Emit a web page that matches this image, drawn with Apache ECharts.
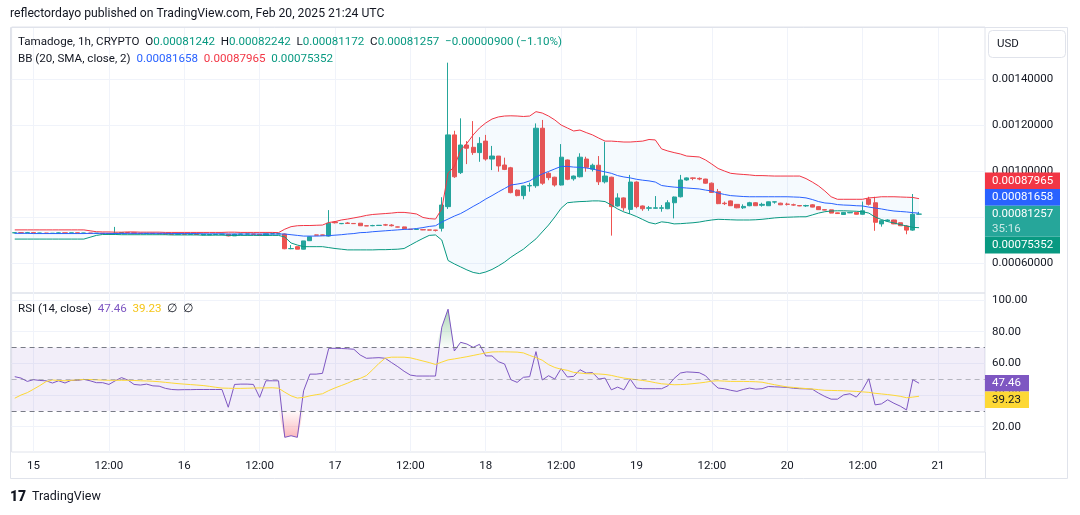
<!DOCTYPE html>
<html>
<head>
<meta charset="utf-8">
<title>Tamadoge 1h</title>
<script src="https://cdn.jsdelivr.net/npm/echarts@6/dist/echarts.min.js"></script>
<style>
  html, body { margin: 0; padding: 0; background: #ffffff; }
  #chart { width: 1080px; height: 515px; }
</style>
</head>
<body>
<div id="chart"></div>
<script>
// hourly candles, first one is Feb 14 21:00, last one Feb 20 21:00
var opens = [
  0.000731, 0.000732, 0.000731, 0.000732, 0.000730, 0.000730, 0.000729, 0.000729, 0.000731, 0.000730,
  0.000731, 0.000730, 0.000730, 0.000729, 0.000729, 0.000728, 0.000727, 0.000730, 0.000732, 0.000731,
  0.000729, 0.000728, 0.000729, 0.000728, 0.000727, 0.000726, 0.000725, 0.000726, 0.000725, 0.000726,
  0.000722, 0.000722, 0.000724, 0.000725, 0.000725, 0.000718, 0.000725, 0.000726, 0.000726, 0.000725,
  0.000721, 0.000727, 0.000727, 0.000726, 0.000662, 0.000671, 0.000660, 0.000697, 0.000722, 0.000722,
  0.000717, 0.000778, 0.000771, 0.000774, 0.000772, 0.000773, 0.000762, 0.000762, 0.000763, 0.000766,
  0.000765, 0.000757, 0.000757, 0.000747, 0.000746, 0.000745, 0.000744, 0.000743, 0.000751, 0.000845,
  0.001157, 0.000993, 0.001113, 0.001103, 0.001080, 0.001130, 0.001052, 0.001065, 0.001026, 0.001014,
  0.000917, 0.000893, 0.000935, 0.000936, 0.001186, 0.000990, 0.000973, 0.000939, 0.001048, 0.000966,
  0.000975, 0.001052, 0.001008, 0.001025, 0.000953, 0.000973, 0.000848, 0.000883, 0.000833, 0.000952,
  0.000848, 0.000838, 0.000838, 0.000838, 0.000836, 0.000862, 0.000888, 0.000961, 0.000970, 0.000968,
  0.000965, 0.000947, 0.000910, 0.000860, 0.000870, 0.000855, 0.000840, 0.000849, 0.000862, 0.000851,
  0.000849, 0.000865, 0.000860, 0.000856, 0.000853, 0.000850, 0.000848, 0.000853, 0.000845, 0.000832,
  0.000831, 0.000818, 0.000811, 0.000818, 0.000820, 0.000812, 0.000878, 0.000862, 0.000770, 0.000783,
  0.000787, 0.000775, 0.000761, 0.000743, 0.00081242
];
var highs = [
  0.000734, 0.000733, 0.000735, 0.000732, 0.000731, 0.000731, 0.000730, 0.000733, 0.000731, 0.000731,
  0.000732, 0.000731, 0.000731, 0.000730, 0.000730, 0.000729, 0.000757, 0.000733, 0.000733, 0.000731,
  0.000730, 0.000730, 0.000729, 0.000729, 0.000728, 0.000727, 0.000726, 0.000727, 0.000726, 0.000726,
  0.000726, 0.000725, 0.000726, 0.000726, 0.000726, 0.000727, 0.000727, 0.000727, 0.000727, 0.000726,
  0.000728, 0.000728, 0.000728, 0.000728, 0.000678, 0.000671, 0.000696, 0.000715, 0.000723, 0.000723,
  0.000830, 0.000782, 0.000773, 0.000778, 0.000773, 0.000774, 0.000763, 0.000766, 0.000764, 0.000770,
  0.000769, 0.000758, 0.000758, 0.000748, 0.000748, 0.000746, 0.000745, 0.000744, 0.000886, 0.001471,
  0.001175, 0.001229, 0.001130, 0.001217, 0.001147, 0.001157, 0.001109, 0.001065, 0.001058, 0.001018,
  0.000920, 0.000937, 0.000949, 0.001207, 0.001222, 0.000995, 0.000975, 0.001117, 0.001050, 0.000980,
  0.001077, 0.001062, 0.001032, 0.001065, 0.001127, 0.000975, 0.000903, 0.000885, 0.000983, 0.000955,
  0.000850, 0.000848, 0.000891, 0.000852, 0.000873, 0.000889, 0.000983, 0.000972, 0.000972, 0.000972,
  0.000966, 0.000950, 0.000922, 0.000867, 0.000872, 0.000856, 0.000855, 0.000866, 0.000864, 0.000862,
  0.000867, 0.000867, 0.000862, 0.000862, 0.000858, 0.000851, 0.000853, 0.000856, 0.000847, 0.000833,
  0.000832, 0.000819, 0.000822, 0.000822, 0.000821, 0.000867, 0.000888, 0.000888, 0.000787, 0.000790,
  0.000788, 0.000776, 0.000765, 0.000900, 0.00082242
];
var lows = [
  0.000729, 0.000730, 0.000730, 0.000729, 0.000729, 0.000728, 0.000728, 0.000728, 0.000729, 0.000729,
  0.000729, 0.000729, 0.000728, 0.000728, 0.000727, 0.000726, 0.000727, 0.000729, 0.000730, 0.000728,
  0.000727, 0.000727, 0.000727, 0.000726, 0.000725, 0.000724, 0.000724, 0.000724, 0.000724, 0.000723,
  0.000721, 0.000721, 0.000723, 0.000724, 0.000716, 0.000718, 0.000724, 0.000725, 0.000724, 0.000720,
  0.000721, 0.000726, 0.000726, 0.000660, 0.000660, 0.000660, 0.000659, 0.000696, 0.000720, 0.000720,
  0.000715, 0.000772, 0.000769, 0.000770, 0.000771, 0.000761, 0.000761, 0.000760, 0.000762, 0.000762,
  0.000759, 0.000755, 0.000748, 0.000745, 0.000745, 0.000743, 0.000742, 0.000737, 0.000737, 0.000835,
  0.000970, 0.000987, 0.001030, 0.001070, 0.001040, 0.001045, 0.001004, 0.000997, 0.001004, 0.000903,
  0.000890, 0.000877, 0.000910, 0.000927, 0.000940, 0.000960, 0.000932, 0.000937, 0.000960, 0.000958,
  0.000972, 0.000997, 0.000998, 0.000939, 0.000946, 0.000719, 0.000845, 0.000827, 0.000813, 0.000838,
  0.000827, 0.000827, 0.000836, 0.000823, 0.000834, 0.000794, 0.000885, 0.000958, 0.000960, 0.000960,
  0.000945, 0.000905, 0.000856, 0.000852, 0.000848, 0.000838, 0.000835, 0.000847, 0.000848, 0.000845,
  0.000848, 0.000858, 0.000852, 0.000850, 0.000849, 0.000847, 0.000844, 0.000842, 0.000831, 0.000829,
  0.000816, 0.000814, 0.000810, 0.000817, 0.000811, 0.000810, 0.000850, 0.000740, 0.000758, 0.000779,
  0.000769, 0.000761, 0.000725, 0.000740, 0.00081172
];
var closes = [
  0.000732, 0.000731, 0.000732, 0.000730, 0.000730, 0.000729, 0.000729, 0.000731, 0.000730, 0.000731,
  0.000730, 0.000730, 0.000729, 0.000729, 0.000728, 0.000727, 0.000730, 0.000732, 0.000731, 0.000729,
  0.000728, 0.000729, 0.000728, 0.000727, 0.000726, 0.000725, 0.000726, 0.000725, 0.000726, 0.000724,
  0.000725, 0.000724, 0.000725, 0.000725, 0.000718, 0.000725, 0.000726, 0.000726, 0.000725, 0.000721,
  0.000727, 0.000727, 0.000727, 0.000662, 0.000663, 0.000660, 0.000696, 0.000714, 0.000721, 0.000721,
  0.000773, 0.000775, 0.000772, 0.000772, 0.000771, 0.000762, 0.000761, 0.000763, 0.000764, 0.000765,
  0.000762, 0.000756, 0.000749, 0.000746, 0.000747, 0.000744, 0.000743, 0.000742, 0.000852, 0.001157,
  0.000975, 0.001113, 0.001099, 0.001080, 0.001120, 0.001052, 0.001065, 0.001022, 0.001007, 0.000906,
  0.000893, 0.000935, 0.000937, 0.001186, 0.000947, 0.000971, 0.000939, 0.001060, 0.000964, 0.000978,
  0.001060, 0.001016, 0.001025, 0.000953, 0.000978, 0.000845, 0.000883, 0.000840, 0.000952, 0.000845,
  0.000836, 0.000840, 0.000840, 0.000840, 0.000862, 0.000887, 0.000961, 0.000970, 0.000968, 0.000965,
  0.000947, 0.000907, 0.000858, 0.000858, 0.000849, 0.000840, 0.000846, 0.000862, 0.000849, 0.000855,
  0.000866, 0.000866, 0.000853, 0.000855, 0.000852, 0.000848, 0.000850, 0.000843, 0.000832, 0.000830,
  0.000817, 0.000815, 0.000820, 0.000820, 0.000812, 0.000827, 0.000855, 0.000777, 0.000784, 0.000787,
  0.000770, 0.000762, 0.000743, 0.000812, 0.00081257
];

// Bollinger Bands (20, SMA, close, 2)
var bbUpper = [
  0.000744, 0.000744, 0.000744, 0.000744, 0.000744, 0.000744, 0.000744, 0.000744, 0.000744, 0.000744,
  0.000744, 0.000744, 0.000740, 0.000736, 0.000735, 0.000735, 0.000734, 0.000734, 0.000735, 0.000735,
  0.000734, 0.000734, 0.000734, 0.000734, 0.000733, 0.000733, 0.000733, 0.000733, 0.000733, 0.000733,
  0.000733, 0.000733, 0.000733, 0.000733, 0.000734, 0.000734, 0.000733, 0.000733, 0.000733, 0.000733,
  0.000733, 0.000733, 0.000732, 0.000747, 0.000758, 0.000762, 0.000763, 0.000763, 0.000764, 0.000765,
  0.000776, 0.000780, 0.000787, 0.000791, 0.000796, 0.000801, 0.000807, 0.000811, 0.000813, 0.000815,
  0.000817, 0.000820, 0.000820, 0.000817, 0.000813, 0.000798, 0.000793, 0.000791, 0.000835, 0.000990,
  0.001020, 0.001090, 0.001120, 0.001157, 0.001187, 0.001209, 0.001226, 0.001235, 0.001239, 0.001240,
  0.001239, 0.001237, 0.001239, 0.001258, 0.001252, 0.001239, 0.001222, 0.001200, 0.001187, 0.001174,
  0.001178, 0.001167, 0.001157, 0.001143, 0.001130, 0.001130, 0.001128, 0.001126, 0.001126, 0.001128,
  0.001130, 0.001137, 0.001135, 0.001096, 0.001087, 0.001080, 0.001074, 0.001065, 0.001063, 0.001061,
  0.001048, 0.001030, 0.001011, 0.001000, 0.000990, 0.000987, 0.000985, 0.000983, 0.000980, 0.000980,
  0.000979, 0.000978, 0.000978, 0.000978, 0.000978, 0.000978, 0.000967, 0.000952, 0.000935, 0.000913,
  0.000888, 0.000877, 0.000877, 0.000877, 0.000877, 0.000877, 0.000883, 0.000885, 0.000888, 0.000888,
  0.000888, 0.000887, 0.000886, 0.000885, 0.00087965
];
var bbBasis = [
  0.000729, 0.000729, 0.000729, 0.000728, 0.000728, 0.000728, 0.000728, 0.000728, 0.000728, 0.000728,
  0.000728, 0.000728, 0.000729, 0.000729, 0.000729, 0.000729, 0.000728, 0.000728, 0.000729, 0.000729,
  0.000729, 0.000729, 0.000729, 0.000729, 0.000729, 0.000728, 0.000728, 0.000728, 0.000728, 0.000728,
  0.000727, 0.000727, 0.000727, 0.000727, 0.000726, 0.000726, 0.000726, 0.000726, 0.000726, 0.000726,
  0.000726, 0.000726, 0.000726, 0.000726, 0.000723, 0.000720, 0.000717, 0.000717, 0.000717, 0.000718,
  0.000719, 0.000721, 0.000723, 0.000726, 0.000728, 0.000732, 0.000733, 0.000736, 0.000738, 0.000740,
  0.000742, 0.000744, 0.000746, 0.000747, 0.000750, 0.000754, 0.000759, 0.000762, 0.000778, 0.000791,
  0.000804, 0.000815, 0.000830, 0.000846, 0.000861, 0.000878, 0.000893, 0.000909, 0.000924, 0.000939,
  0.000943, 0.000948, 0.000957, 0.000974, 0.000987, 0.000998, 0.001009, 0.001020, 0.001020, 0.001017,
  0.001016, 0.001013, 0.001009, 0.001002, 0.000996, 0.000990, 0.000980, 0.000974, 0.000970, 0.000964,
  0.000960, 0.000957, 0.000952, 0.000937, 0.000933, 0.000930, 0.000928, 0.000926, 0.000924, 0.000922,
  0.000917, 0.000913, 0.000904, 0.000898, 0.000893, 0.000891, 0.000889, 0.000888, 0.000888, 0.000888,
  0.000888, 0.000888, 0.000888, 0.000888, 0.000887, 0.000886, 0.000883, 0.000876, 0.000867, 0.000861,
  0.000859, 0.000854, 0.000852, 0.000851, 0.000849, 0.000848, 0.000843, 0.000839, 0.000835, 0.000830,
  0.000826, 0.000824, 0.000822, 0.000819, 0.00081658
];
var bbLower = [
  0.000704, 0.000704, 0.000704, 0.000704, 0.000704, 0.000704, 0.000704, 0.000704, 0.000704, 0.000704,
  0.000704, 0.000704, 0.000712, 0.000720, 0.000724, 0.000724, 0.000724, 0.000723, 0.000723, 0.000723,
  0.000723, 0.000723, 0.000723, 0.000723, 0.000723, 0.000722, 0.000722, 0.000722, 0.000722, 0.000722,
  0.000721, 0.000721, 0.000721, 0.000721, 0.000720, 0.000720, 0.000720, 0.000720, 0.000720, 0.000720,
  0.000720, 0.000720, 0.000720, 0.000713, 0.000687, 0.000678, 0.000671, 0.000671, 0.000671, 0.000671,
  0.000667, 0.000663, 0.000660, 0.000657, 0.000657, 0.000657, 0.000657, 0.000657, 0.000658, 0.000658,
  0.000659, 0.000660, 0.000663, 0.000678, 0.000693, 0.000707, 0.000720, 0.000722, 0.000700, 0.000611,
  0.000596, 0.000583, 0.000570, 0.000559, 0.000554, 0.000561, 0.000572, 0.000587, 0.000604, 0.000625,
  0.000643, 0.000660, 0.000683, 0.000705, 0.000735, 0.000765, 0.000800, 0.000838, 0.000862, 0.000865,
  0.000867, 0.000868, 0.000870, 0.000870, 0.000867, 0.000852, 0.000835, 0.000822, 0.000813, 0.000802,
  0.000789, 0.000776, 0.000770, 0.000779, 0.000776, 0.000770, 0.000771, 0.000773, 0.000775, 0.000778,
  0.000783, 0.000787, 0.000790, 0.000789, 0.000788, 0.000787, 0.000787, 0.000787, 0.000788, 0.000790,
  0.000793, 0.000796, 0.000798, 0.000799, 0.000800, 0.000801, 0.000801, 0.000809, 0.000817, 0.000823,
  0.000826, 0.000827, 0.000827, 0.000826, 0.000825, 0.000823, 0.000817, 0.000800, 0.000789, 0.000780,
  0.000774, 0.000767, 0.000761, 0.000755, 0.00075352
];

// RSI (14, close) and its moving average
var rsi = [
  51.6, 50.7, 48.6, 49.7, 49.2, 49.0, 47.6, 49.0, 47.6, 49.3,
  49.2, 49.9, 49.0, 47.8, 47.8, 46.7, 49.0, 51.0, 49.5, 46.7,
  46.3, 46.9, 45.8, 45.6, 44.2, 43.5, 43.3, 43.4, 43.4, 43.5,
  43.5, 43.5, 43.5, 43.5, 32.3, 46.7, 46.9, 46.9, 46.7, 38.5,
  49.0, 49.0, 49.0, 13.3, 14.3, 13.3, 42.7, 53.2, 53.2, 53.7,
  69.5, 69.5, 69.4, 69.2, 68.9, 65.3, 63.2, 63.4, 63.6, 63.2,
  60.5, 57.9, 55.0, 52.6, 52.0, 52.0, 52.0, 52.0, 82.8, 94.2,
  67.8, 73.3, 72.2, 70.1, 72.0, 64.7, 64.7, 61.1, 59.6, 49.7,
  48.0, 51.2, 51.6, 67.4, 49.5, 52.2, 50.1, 56.7, 51.4, 51.8,
  56.0, 53.9, 54.2, 50.1, 50.7, 43.3, 45.0, 43.3, 50.1, 44.4,
  44.0, 44.0, 44.0, 44.0, 45.8, 50.5, 53.9, 54.6, 54.4, 54.1,
  52.2, 48.0, 44.4, 44.0, 43.0, 42.3, 43.5, 44.4, 43.7, 44.0,
  45.4, 45.2, 45.0, 44.8, 44.3, 44.0, 43.9, 43.7, 41.2, 39.1,
  37.4, 37.4, 40.1, 40.8, 38.7, 43.3, 50.3, 33.8, 34.4, 37.0,
  34.8, 33.0, 30.6, 49.7, 47.46
];
var rsiMa = [
  38.0, 40.0, 41.5, 43.7, 46.0, 48.5, 49.5, 49.2, 49.0, 49.3,
  49.6, 49.8, 49.8, 49.6, 49.4, 49.3, 49.3, 49.3, 49.3, 49.2,
  49.0, 48.9, 48.7, 48.4, 48.0, 47.6, 47.2, 46.9, 46.6, 46.3,
  46.0, 45.5, 44.9, 44.4, 44.3, 44.2, 44.2, 44.3, 44.4, 44.5,
  44.5, 44.6, 44.3, 41.8, 39.5, 38.1, 38.5, 39.5, 40.2, 40.8,
  42.8, 44.5, 46.0, 47.5, 49.3, 50.5, 52.3, 56.0, 60.0, 63.3,
  63.9, 63.9, 63.9, 63.5, 62.5, 61.5, 60.5, 59.3, 60.8, 62.2,
  62.8, 63.5, 64.2, 65.0, 65.8, 66.6, 67.2, 67.3, 67.3, 67.2,
  67.1, 66.6, 65.0, 63.6, 62.0, 59.2, 57.4, 56.3, 55.6, 54.3,
  53.9, 53.5, 53.4, 53.3, 53.0, 52.4, 51.5, 50.7, 50.2, 49.7,
  49.2, 48.6, 47.8, 47.1, 46.8, 46.5, 46.6, 46.8, 47.2, 47.6,
  48.1, 48.8, 49.0, 48.8, 48.6, 48.6, 48.6, 48.5, 48.4, 48.1,
  47.3, 46.5, 45.8, 45.1, 44.8, 44.4, 44.1, 43.8, 43.4, 43.0,
  42.9, 42.8, 42.7, 42.5, 42.3, 42.0, 41.7, 41.1, 40.7, 40.3,
  39.8, 39.2, 38.3, 38.7, 39.23
];

// axis ticks
var tickHours = ['Feb 15 00:00', 'Feb 15 12:00', 'Feb 16 00:00', 'Feb 16 12:00', 'Feb 17 00:00', 'Feb 17 12:00',
  'Feb 18 00:00', 'Feb 18 12:00', 'Feb 19 00:00', 'Feb 19 12:00', 'Feb 20 00:00', 'Feb 20 12:00', 'Feb 21 00:00'];
var tickLabels = ['15', '12:00', '16', '12:00', '17', '12:00', '18', '12:00', '19', '12:00', '20', '12:00', '21'];
var priceTicks = [0.0006, 0.0008, 0.0010, 0.0012, 0.0014];
var rsiTicks = [20, 40, 60, 80, 100];

// hourly categories, with empty room on the right like the TradingView scale
var hours = [];
for (var k = 0; k < 155; k++) {
  var t = 21 + k;
  hours.push('Feb ' + (14 + Math.floor(t / 24)) + ' ' + String(t % 24).padStart(2, '0') + ':00');
}

var FONT = 'Roboto, "Noto Sans", sans-serif';
var TEXT = '#131722';
var GRID = '#f0f3fa';
var BORDER = '#e0e3eb';
var UP = '#26a69a', DOWN = '#ef5350';
var AXIS_FS = 11.5, LEGEND_FS = 11.6;

var candles = opens.map(function (o, i) { return [o, closes[i], lows[i], highs[i]]; });
var bandWidth = bbUpper.map(function (u, i) { return u - bbLower[i]; });
var obBase = rsi.map(function () { return 70; });
var obFill = rsi.map(function (v) { return Math.max(v, 70) - 70; });
var osBase = rsi.map(function (v) { return Math.min(v, 30); });
var osFill = osBase.map(function (v) { return 30 - v; });

function isTick(index, value) { return tickHours.indexOf(value) >= 0; }

function timeAxis(gridIndex, showLabels) {
  return {
    type: 'category', gridIndex: gridIndex, data: hours, boundaryGap: true,
    axisLine: { show: false }, axisTick: { show: false },
    axisLabel: {
      show: showLabels, interval: isTick, margin: 8,
      color: TEXT, fontSize: AXIS_FS, fontFamily: FONT,
      formatter: function (v) { var i = tickHours.indexOf(v); return i >= 0 ? tickLabels[i] : ''; }
    },
    splitLine: { show: true, interval: isTick, alignWithLabel: true, lineStyle: { color: GRID, width: 1 } }
  };
}

var chart = echarts.init(document.getElementById('chart'));

function thinLine(name, data, color, x, y) {
  return {
    name: name, type: 'line', xAxisIndex: x, yAxisIndex: y, data: data,
    symbol: 'none', silent: true, lineStyle: { color: color, width: 1 }
  };
}

var option = {
  animation: false,
  backgroundColor: '#ffffff',
  grid: [
    { left: 11.6, right: 95, top: 27, height: 266, show: true, borderColor: BORDER, borderWidth: 1, outerBoundsMode: 'none' },
    { left: 11.6, right: 95, top: 293, height: 159, show: true, borderColor: BORDER, borderWidth: 1, outerBoundsMode: 'none' }
  ],
  xAxis: [timeAxis(0, false), timeAxis(1, true)],
  yAxis: [
    {
      type: 'value', gridIndex: 0, position: 'right', min: 0.00046957, max: 0.00162609,
      axisLine: { show: false }, axisTick: { show: false, customValues: priceTicks },
      axisLabel: { customValues: priceTicks, margin: 7, color: TEXT, fontSize: AXIS_FS, fontFamily: FONT,
        formatter: function (v) { return v.toFixed(8); } },
      splitLine: { show: true, lineStyle: { color: GRID } }
    },
    {
      type: 'value', gridIndex: 1, position: 'right', min: 4.04, max: 104.42,
      axisLine: { show: false }, axisTick: { show: false, customValues: rsiTicks },
      axisLabel: { customValues: rsiTicks, margin: 7, color: TEXT, fontSize: AXIS_FS, fontFamily: FONT,
        formatter: function (v) { return v.toFixed(2); } },
      splitLine: { show: true, lineStyle: { color: GRID } }
    }
  ],
  series: [
    { name: 'bbBase', type: 'line', stack: 'bb', data: bbLower, symbol: 'none', silent: true,
      lineStyle: { opacity: 0 } },
    { name: 'bbFill', type: 'line', stack: 'bb', data: bandWidth, symbol: 'none', silent: true,
      lineStyle: { opacity: 0 }, areaStyle: { color: 'rgba(33,150,243,0.06)' } },
    thinLine('upper', bbUpper, '#f23645', 0, 0),
    thinLine('basis', bbBasis, '#2962ff', 0, 0),
    thinLine('lower', bbLower, '#089981', 0, 0),
    {
      name: 'Tamadoge', type: 'candlestick', data: candles, barWidth: '74%', silent: true,
      itemStyle: { color: UP, color0: DOWN, borderColor: UP, borderColor0: DOWN, borderWidth: 1 }
    },
    { name: 'obBase', type: 'line', xAxisIndex: 1, yAxisIndex: 1, stack: 'ob', data: obBase,
      symbol: 'none', silent: true, lineStyle: { opacity: 0 } },
    { name: 'obFill', type: 'line', xAxisIndex: 1, yAxisIndex: 1, stack: 'ob', data: obFill,
      symbol: 'none', silent: true, lineStyle: { opacity: 0 },
      areaStyle: { color: new echarts.graphic.LinearGradient(0, 0, 0, 1, [
        { offset: 0, color: 'rgba(56,160,80,0.6)' }, { offset: 1, color: 'rgba(56,160,80,0.03)' }]) } },
    { name: 'osBase', type: 'line', xAxisIndex: 1, yAxisIndex: 1, stack: 'os', data: osBase,
      symbol: 'none', silent: true, lineStyle: { opacity: 0 } },
    { name: 'osFill', type: 'line', xAxisIndex: 1, yAxisIndex: 1, stack: 'os', data: osFill,
      symbol: 'none', silent: true, lineStyle: { opacity: 0 },
      areaStyle: { color: new echarts.graphic.LinearGradient(0, 0, 0, 1, [
        { offset: 0, color: 'rgba(242,54,69,0.03)' }, { offset: 1, color: 'rgba(242,54,69,0.5)' }]) } },
    {
      name: 'RSI', type: 'line', xAxisIndex: 1, yAxisIndex: 1, data: rsi, symbol: 'none', silent: true,
      lineStyle: { color: '#7e57c2', width: 1 },
      markArea: { silent: true, itemStyle: { color: 'rgba(126,87,194,0.1)' }, data: [[{ yAxis: 30 }, { yAxis: 70 }]] },
      markLine: {
        silent: true, symbol: ['none', 'none'], label: { show: false },
        lineStyle: { color: '#787b86', width: 1, type: [5, 4] },
        data: [{ yAxis: 70 }, { yAxis: 50, lineStyle: { color: 'rgba(120,123,134,0.5)', type: [5, 4] } }, { yAxis: 30 }]
      }
    },
    thinLine('RSI MA', rsiMa, '#fdd835', 1, 1)
  ]
};
chart.setOption(option);

// overlay texts and value tags
var last = closes.length - 1;
function yPrice(v) { return chart.convertToPixel({ yAxisIndex: 0 }, v); }
function yRsi(v) { return chart.convertToPixel({ yAxisIndex: 1 }, v); }

function tag(top, h, bg, text, fg, w) {
  return [
    { type: 'rect', z: 100, silent: true, shape: { x: 985, y: top, width: w, height: h }, style: { fill: bg } },
    { type: 'text', z: 101, silent: true, x: 992, y: top + h / 2,
      style: { text: text, fill: fg, fontSize: AXIS_FS, fontFamily: FONT, verticalAlign: 'middle' } }
  ];
}

function rs(color) { return { fill: color, fontSize: LEGEND_FS, fontFamily: FONT }; }
var rich = { a: rs(TEXT), g: rs('#089981'), b: rs('#2962ff'), r: rs('#f23645'), p: rs('#7e57c2'), y: rs('#f5c518') };

var g = [
  { type: 'rect', silent: true, shape: { x: 10.5, y: 27.5, width: 1057, height: 451 }, style: { fill: 'none', stroke: BORDER } },
  { type: 'line', silent: true, shape: { x1: 985.5, y1: 452, x2: 985.5, y2: 479 }, style: { stroke: BORDER } },
  { type: 'rect', silent: true, z: 50, shape: { x: 988.5, y: 30.5, width: 77, height: 27, r: 4 }, style: { fill: '#fff', stroke: BORDER } },
  { type: 'text', silent: true, z: 51, x: 997, y: 44, style: { text: 'USD', fill: TEXT, fontSize: AXIS_FS, fontFamily: FONT, verticalAlign: 'middle' } },
  { type: 'text', silent: true, x: 10, y: 14, style: { text: 'reflectordayo published on TradingView.com, Feb 20, 2025 21:24 UTC',
    fill: TEXT, fontSize: 12.2, fontFamily: FONT, verticalAlign: 'middle' } },
  { type: 'text', silent: true, z: 60, x: 18, y: 42, style: { verticalAlign: 'middle', rich: rich,
    text: '{a|Tamadoge, 1h, CRYPTO  O}{g|' + opens[last].toFixed(8) + '}{a|  H}{g|' + highs[last].toFixed(8) +
      '}{a|  L}{g|' + lows[last].toFixed(8) + '}{a|  C}{g|' + closes[last].toFixed(8) + '}{g|  \u22120.00000900 (\u22121.10%)}' } },
  { type: 'text', silent: true, z: 60, x: 18, y: 59, style: { verticalAlign: 'middle', rich: rich,
    text: '{a|BB (20, SMA, close, 2)  }{b|' + bbBasis[last].toFixed(8) + '}{r|  ' + bbUpper[last].toFixed(8) +
      '}{g|  ' + bbLower[last].toFixed(8) + '}' } },
  { type: 'text', silent: true, z: 60, x: 18, y: 309, style: { verticalAlign: 'middle', rich: rich,
    text: '{a|RSI (14, close)  }{p|' + rsi[last].toFixed(2) + '}{y|  ' + rsiMa[last].toFixed(2) + '}{a|  \u2205  \u2205}' } },
  { type: 'text', silent: true, x: 10, y: 497, style: { text: '17', fill: TEXT, fontSize: 14, fontWeight: 900,
    fontFamily: FONT, verticalAlign: 'middle' } },
  { type: 'text', silent: true, x: 32, y: 497, style: { text: 'TradingView', fill: TEXT, fontSize: 12.5,
    fontFamily: FONT, verticalAlign: 'middle' } }
];

// price scale tags, stacked like TradingView does around the last price
var tealTop = yPrice(closes[last]) - 8.3;
g = g.concat(
  tag(tealTop - 33.4, 16.7, '#f23645', bbUpper[last].toFixed(8), '#fff', 75),
  tag(tealTop - 16.7, 16.7, '#2962ff', bbBasis[last].toFixed(8), '#fff', 75),
  tag(tealTop + 31, 16.7, '#089981', bbLower[last].toFixed(8), '#fff', 75)
);
g.push({ type: 'rect', z: 100, silent: true, shape: { x: 985, y: tealTop, width: 75, height: 31 }, style: { fill: UP } });
g.push({ type: 'text', z: 101, silent: true, x: 992, y: tealTop + 8.3,
  style: { text: closes[last].toFixed(8), fill: '#fff', fontSize: AXIS_FS, fontFamily: FONT, verticalAlign: 'middle' } });
g.push({ type: 'text', z: 101, silent: true, x: 992, y: tealTop + 23,
  style: { text: '35:16', fill: 'rgba(255,255,255,0.75)', fontSize: AXIS_FS, fontFamily: FONT, verticalAlign: 'middle' } });

var rsiTop = yRsi(rsi[last]) - 8.3;
g = g.concat(
  tag(rsiTop, 16.6, '#7e57c2', rsi[last].toFixed(2), '#fff', 44),
  tag(rsiTop + 16.6, 16.6, '#fdd835', rsiMa[last].toFixed(2), TEXT, 44)
);

chart.setOption({ graphic: g });
</script>
</body>
</html>
